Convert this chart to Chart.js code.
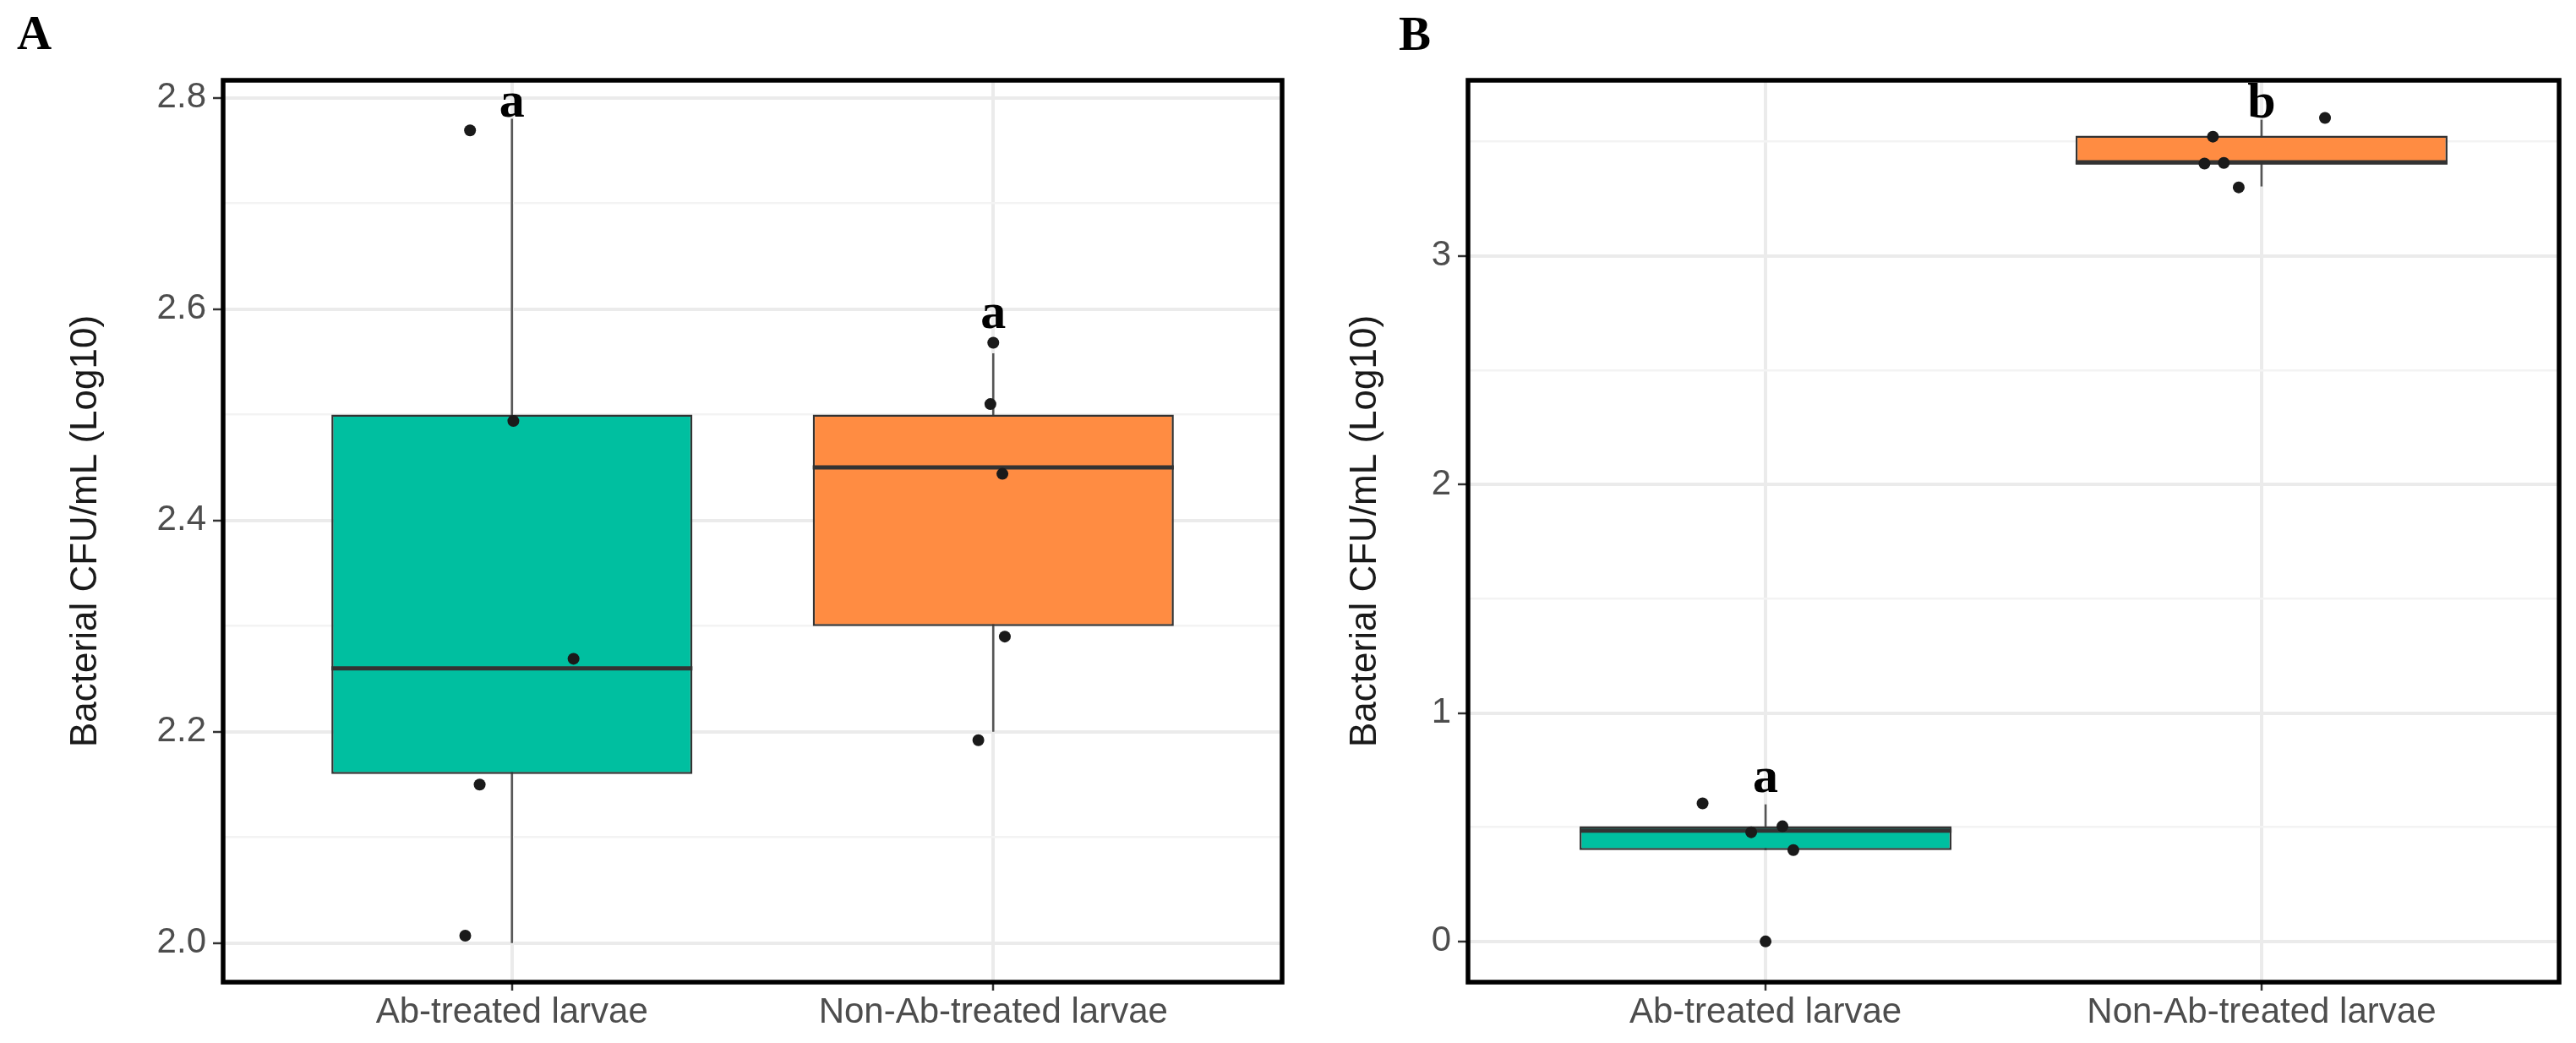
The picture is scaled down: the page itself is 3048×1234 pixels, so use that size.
<!DOCTYPE html>
<html lang="en">
<head>
  <meta charset="UTF-8" />
  <title>Bacterial CFU/mL (Log10) boxplots</title>
  <script src="https://cdn.jsdelivr.net/npm/chart.js"></script>
  <style>
    html, body { margin: 0; padding: 0; background: #fff; }
    .panel { position: absolute; top: 0; }
    #panelA { left: 0; }
    #panelB { left: 1524px; }
  </style>
</head>
<body>

<canvas id="panelA" class="panel" width="1524" height="1234"></canvas>
<canvas id="panelB" class="panel" width="1524" height="1234"></canvas>

<script>
  // categories (ggplot discrete positions 1 and 2)
  const categories = ['Ab-treated larvae', 'Non-Ab-treated larvae'];
  const categoryX = [1, 2];
  const yTitle = 'Bacterial CFU/mL (Log10)';

  // Panel A: box stats per category
  const aQ1 = [2.16, 2.30];
  const aMedian = [2.26, 2.45];
  const aQ3 = [2.50, 2.50];
  const aWhiskerLow = [2.00, 2.20];
  const aWhiskerHigh = [2.78, 2.558];
  // Panel A: jittered points
  const aPointX = [0.913, 1.003, 1.128, 0.933, 0.903, 2.0, 1.994, 2.019, 2.024, 1.969];
  const aPointY = [2.769, 2.494, 2.269, 2.150, 2.007, 2.568, 2.510, 2.444, 2.290, 2.192];
  // Panel A: significance letters
  const aLetters = ['a', 'a'];
  const aLetterY = [2.782, 2.582];
  const aYRange = [1.963, 2.8164];

  // Panel B
  const bQ1 = [0.40, 3.40];
  const bMedian = [0.485, 3.41];
  const bQ3 = [0.504, 3.526];
  const bWhiskerLow = [0.40, 3.304];
  const bWhiskerHigh = [0.60, 3.596];
  const bPointX = [0.873, 0.971, 1.034, 1.056, 1.0, 1.902, 1.885, 1.924, 1.954, 2.128];
  const bPointY = [0.604, 0.478, 0.504, 0.400, 0.0, 3.522, 3.404, 3.407, 3.300, 3.604];
  const bLetters = ['a', 'b'];
  const bLetterY = [0.656, 3.607];
  const bYRange = [-0.178, 3.7685];

  const boxColors = ['#00BFA0', '#FF8C42'];
  const sansFont = '"Liberation Sans", Arial, sans-serif';
  const serifFont = '"Liberation Serif", "Times New Roman", serif';

  function createBoxPanel(canvasId, p) {
    const halfBox = 0.375;
    const isMajor = v => Math.abs(v / p.majorStep - Math.round(v / p.majorStep)) < 1e-6;

    const datasets = [];
    // points on top
    datasets.push({
      type: 'scatter',
      data: p.pointX.map((x, i) => ({ x: x, y: p.pointY[i] })),
      backgroundColor: '#1A1A1A',
      borderWidth: 0,
      pointRadius: 7,
      pointHoverRadius: 7
    });
    // medians
    categoryX.forEach((c, i) => {
      datasets.push({
        type: 'line',
        data: [{ x: c - halfBox, y: p.median[i] }, { x: c + halfBox, y: p.median[i] }],
        borderColor: '#333333',
        borderWidth: 5,
        borderCapStyle: 'butt',
        pointRadius: 0
      });
    });
    // boxes
    datasets.push({
      type: 'bar',
      data: categoryX.map((c, i) => ({ x: c, y: [p.q1[i], p.q3[i]] })),
      backgroundColor: boxColors,
      borderColor: '#333333',
      borderWidth: 2.5,
      borderSkipped: false,
      categoryPercentage: 1,
      barPercentage: 0.75
    });
    // whiskers behind boxes
    categoryX.forEach((c, i) => {
      datasets.push({
        type: 'line',
        data: [{ x: c, y: p.whiskerLow[i] }, { x: c, y: p.whiskerHigh[i] }],
        borderColor: '#555555',
        borderWidth: 2.5,
        pointRadius: 0
      });
    });

    const decor = {
      id: 'decor',
      afterDatasetsDraw(chart) {
        const ctx = chart.ctx;
        const xs = chart.scales.x, ys = chart.scales.y;
        ctx.save();
        ctx.fillStyle = '#000';
        ctx.font = 'bold 60px ' + serifFont;
        ctx.textAlign = 'center';
        ctx.textBaseline = 'alphabetic';
        p.letters.forEach((t, i) => {
          ctx.fillText(t, xs.getPixelForValue(categoryX[i]), ys.getPixelForValue(p.letterY[i]));
        });
        ctx.restore();
      },
      afterDraw(chart) {
        const ctx = chart.ctx;
        const a = chart.chartArea;
        ctx.save();
        ctx.strokeStyle = '#000';
        ctx.lineWidth = 5.5;
        ctx.strokeRect(a.left, a.top, a.right - a.left, a.bottom - a.top);
        ctx.fillStyle = '#000';
        ctx.font = 'bold 57px ' + serifFont;
        ctx.textAlign = 'left';
        ctx.textBaseline = 'alphabetic';
        ctx.fillText(p.panelLetter, p.panelLetterPos[0], p.panelLetterPos[1]);
        ctx.restore();
      }
    };

    return new Chart(document.getElementById(canvasId), {
      type: 'bar',
      data: { datasets: datasets },
      plugins: [decor],
      options: {
        responsive: false,
        devicePixelRatio: 1,
        animation: false,
        events: [],
        layout: { padding: { left: 0, right: p.padRight, top: 95, bottom: 0 } },
        plugins: { legend: { display: false }, tooltip: { enabled: false } },
        scales: {
          x: {
            type: 'linear',
            min: 0.4,
            max: 2.6,
            offset: false,
            afterFit: s => { s.height = 72; },
            border: { display: false },
            grid: { offset: false, color: '#EBEBEB', lineWidth: 4, tickColor: '#333333', tickLength: 10, tickWidth: 2.5 },
            ticks: {
              stepSize: 1,
              includeBounds: false,
              autoSkip: false,
              maxRotation: 0,
              padding: 1,
              color: '#4D4D4D',
              font: { family: sansFont, size: 42 },
              callback: v => categories[Math.round(v) - 1]
            }
          },
          y: {
            type: 'linear',
            min: p.yRange[0],
            max: p.yRange[1],
            beginAtZero: false,
            afterFit: s => { s.width = p.yAxisWidth; },
            border: { display: false },
            grid: {
              color: c => isMajor(c.tick.value) ? '#EBEBEB' : '#F3F3F3',
              lineWidth: c => isMajor(c.tick.value) ? 4 : 2.5,
              tickColor: c => isMajor(c.tick.value) ? '#333333' : 'rgba(0,0,0,0)',
              tickLength: 12,
              tickWidth: 2.5
            },
            ticks: {
              stepSize: p.majorStep / 2,
              includeBounds: false,
              autoSkip: false,
              padding: 8,
              color: '#4D4D4D',
              font: { family: sansFont, size: 42 },
              callback: v => isMajor(v) ? v.toFixed(p.decimals) : ''
            },
            title: {
              display: true,
              text: yTitle,
              color: '#1A1A1A',
              font: { family: sansFont, size: 44, lineHeight: 1.2 },
              padding: { top: p.titlePad, bottom: 0 }
            }
          }
        }
      }
    });
  }

  createBoxPanel('panelA', {
    q1: aQ1, median: aMedian, q3: aQ3, whiskerLow: aWhiskerLow, whiskerHigh: aWhiskerHigh,
    pointX: aPointX, pointY: aPointY, letters: aLetters, letterY: aLetterY,
    yRange: aYRange, majorStep: 0.2, decimals: 1,
    yAxisWidth: 264, titlePad: 75.6, padRight: 7,
    panelLetter: 'A', panelLetterPos: [20, 58]
  });

  createBoxPanel('panelB', {
    q1: bQ1, median: bMedian, q3: bQ3, whiskerLow: bWhiskerLow, whiskerHigh: bWhiskerHigh,
    pointX: bPointX, pointY: bPointY, letters: bLetters, letterY: bLetterY,
    yRange: bYRange, majorStep: 1, decimals: 0,
    yAxisWidth: 213, titlePad: 65.6, padRight: 20,
    panelLetter: 'B', panelLetterPos: [131, 59]
  });
</script>

</body>
</html>
